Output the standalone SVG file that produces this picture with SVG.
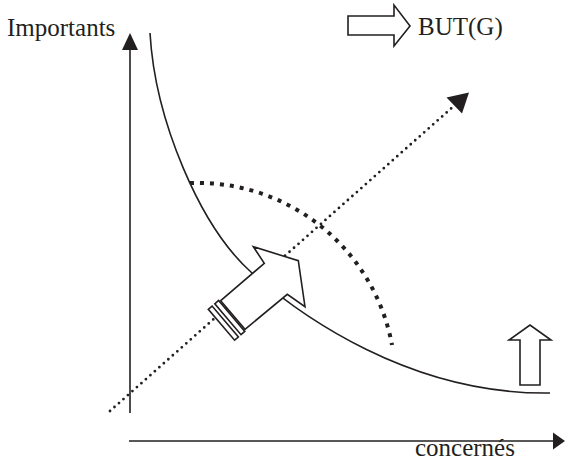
<svg xmlns="http://www.w3.org/2000/svg" width="565" height="462" viewBox="0 0 565 462">
<style>
.t{font-family:"Liberation Serif","Times New Roman",serif;font-size:25px;fill:#231f20}
.ln{fill:none;stroke:#231f20;stroke-width:1.6}
.ho{fill:#fff;stroke:#231f20;stroke-width:1.6;stroke-linejoin:miter}
.hd{fill:#231f20;stroke:none}
</style>
<rect width="565" height="462" fill="#fff"/>
<g id="axes">
<line class="ln" x1="130" y1="413" x2="130" y2="48"/>
<polygon class="hd" points="130,33 138,50 122,50"/>
<line class="ln" x1="129" y1="441" x2="554" y2="441"/>
<polygon class="hd" points="565,441 553,432.5 553,449.5"/>
</g>
<g id="labels">
<text class="t" x="7" y="36">Importants</text>
<text class="t" x="418" y="35">BUT(G)</text>
<text class="t" x="415" y="456">concernés</text>
</g>
<g id="curve">
<path class="ln" d="M150,33 C155,120 200,227 252,273 C300,315 410,395 550,393"/>
</g>
<g id="arc">
<path fill="none" stroke="#231f20" stroke-width="4" stroke-dasharray="4 6" d="M190,183 A198,198 0 0 1 392,345"/>
</g>
<g id="diagonal">
<path fill="none" stroke="#231f20" stroke-width="2.8" stroke-linecap="round" stroke-dasharray="0 6" d="M110,411 L455,105"/>
<polygon class="hd" points="469,92.5 446.5,97.5 462,113.5"/>
</g>
<g id="move-arrow">
<polygon class="ho" points="208.3,309.3 212.1,306.1 238.4,337 234.6,340.2"/>
<polygon class="ho" points="214.8,303.8 218.6,300.5 244.8,331.4 241,334.7"/>
<polygon class="ho" points="220.7,300.7 264.3,263.3 253.3,246.7 298.3,260.7 305,306.7 287.3,294.3 245,329.3"/>
</g>
<g id="but-arrow">
<polygon class="ho" points="348,16 394,16 394,5 410,26 394,46 394,35 348,35"/>
</g>
<g id="up-arrow">
<polygon class="ho" points="520,385 520,340 509,340 530,325 551,340 540,340 540,385"/>
</g>
</svg>
